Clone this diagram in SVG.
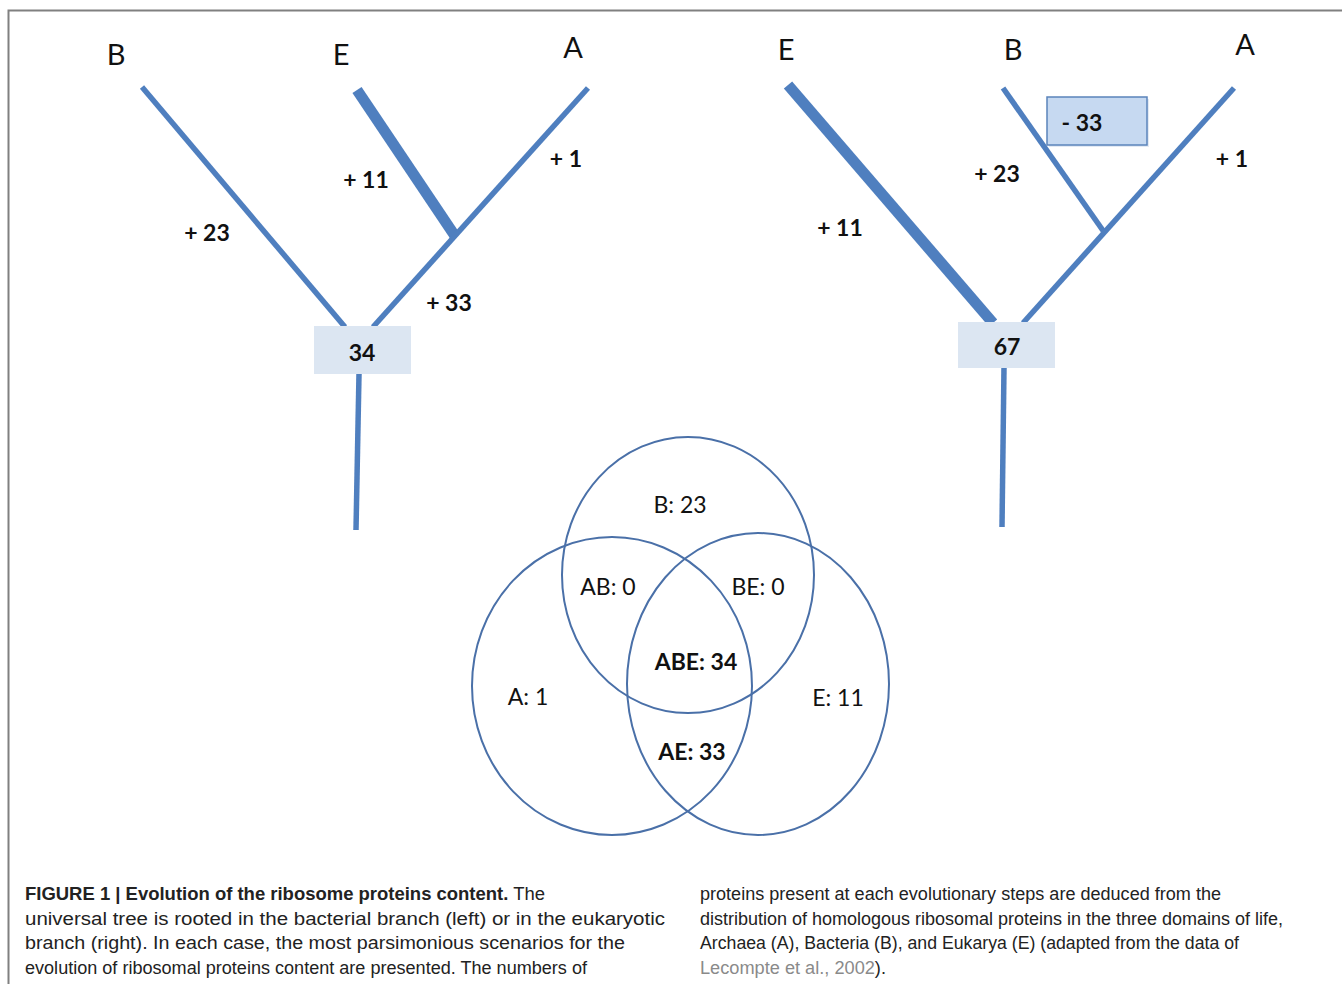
<svg xmlns="http://www.w3.org/2000/svg" width="1342" height="984" viewBox="0 0 1342 984">
<style>
.br{stroke:#4f7fbf;stroke-width:5.5;stroke-linecap:butt;fill:none}
.thick{stroke:#4f7fbf;stroke-width:11;fill:none}
.tip{font-family:Lato,"Open Sans",sans-serif;font-size:29px;fill:#111;text-anchor:middle}
.gain{font-family:Lato,"Open Sans",sans-serif;font-size:23px;font-weight:bold;fill:#111;text-anchor:middle}
.box{fill:#dce6f2}
.vc{fill:none;stroke:#4a70a8;stroke-width:2}
.vt{font-family:Lato,"Open Sans",sans-serif;font-size:23px;fill:#111;text-anchor:middle}
.vb{font-weight:bold}
.cap{font-family:"Liberation Sans",Arial,sans-serif;font-size:17.5px;fill:#222}
</style>
<rect width="1342" height="984" fill="#fff"/>
<path d="M8.5 984 V10.5 H1342" fill="none" stroke="#808080" stroke-width="2"/>

<g id="connectors">
  <line class="br" x1="142" y1="87" x2="345" y2="327"/>
  <line class="thick" x1="357" y1="90" x2="455" y2="236"/>
  <line class="br" x1="588" y1="88" x2="373" y2="327"/>
  <line class="br" x1="359" y1="374" x2="356" y2="530"/>
  <line class="thick" x1="788" y1="85" x2="993" y2="323"/>
  <line class="br" x1="1003" y1="88" x2="1104" y2="232"/>
  <line class="br" x1="1234" y1="88" x2="1023" y2="323"/>
  <line class="br" x1="1004" y1="367" x2="1002" y2="527"/>
</g>

<g id="tree-left">
  <text class="tip" x="116" y="65">B</text>
  <text class="tip" x="341" y="65">E</text>
  <text class="tip" x="573" y="58">A</text>
  <text class="gain" x="207" y="241">+ 23</text>
  <text class="gain" x="366" y="188">+ 11</text>
  <text class="gain" x="566" y="167">+ 1</text>
  <text class="gain" x="449" y="311">+ 33</text>
  <g id="root-left">
    <rect class="box" x="314" y="326" width="97" height="48"/>
    <text class="gain" x="362" y="361">34</text>
  </g>
</g>

<g id="tree-right">
  <text class="tip" x="786" y="60">E</text>
  <text class="tip" x="1013" y="60">B</text>
  <text class="tip" x="1245" y="55">A</text>
  <text class="gain" x="997" y="182">+ 23</text>
  <text class="gain" x="840" y="236">+ 11</text>
  <text class="gain" x="1232" y="167">+ 1</text>
  <g id="loss-box">
    <rect x="1049" y="99" width="100" height="48" fill="#c8d6ea" opacity="0.5"/>
    <rect x="1047" y="97" width="100" height="48" fill="#c6d9f1" stroke="#5b84bb" stroke-width="1.5"/>
    <text class="gain" x="1082" y="131">- 33</text>
  </g>
  <g id="root-right">
    <rect class="box" x="958" y="322" width="97" height="46"/>
    <text class="gain" x="1007" y="355">67</text>
  </g>
</g>

<g id="venn">
  <ellipse id="circle-B" class="vc" cx="688" cy="575" rx="126" ry="138"/>
  <ellipse id="circle-A" class="vc" cx="612" cy="686" rx="140" ry="149"/>
  <ellipse id="circle-E" class="vc" cx="758" cy="684" rx="131" ry="151"/>
  <text class="vt" x="680" y="513">B: 23</text>
  <text class="vt" x="608" y="595">AB: 0</text>
  <text class="vt" x="758" y="595">BE: 0</text>
  <text class="vt vb" x="696" y="670">ABE: 34</text>
  <text class="vt" x="528" y="705">A: 1</text>
  <text class="vt" x="838" y="706">E: 11</text>
  <text class="vt vb" x="692" y="760">AE: 33</text>
</g>

<g id="caption">
  <text class="cap" x="25" y="900" textLength="520" lengthAdjust="spacingAndGlyphs"><tspan font-weight="bold">FIGURE 1 | Evolution of the ribosome proteins content.</tspan> The</text>
  <text class="cap" x="25" y="925" textLength="640" lengthAdjust="spacingAndGlyphs">universal tree is rooted in the bacterial branch (left) or in the eukaryotic</text>
  <text class="cap" x="25" y="949" textLength="600" lengthAdjust="spacingAndGlyphs">branch (right). In each case, the most parsimonious scenarios for the</text>
  <text class="cap" x="25" y="974" textLength="562" lengthAdjust="spacingAndGlyphs">evolution of ribosomal proteins content are presented. The numbers of</text>
  <text class="cap" x="700" y="900" textLength="521" lengthAdjust="spacingAndGlyphs">proteins present at each evolutionary steps are deduced from the</text>
  <text class="cap" x="700" y="925" textLength="583" lengthAdjust="spacingAndGlyphs">distribution of homologous ribosomal proteins in the three domains of life,</text>
  <text class="cap" x="700" y="949" textLength="539" lengthAdjust="spacingAndGlyphs">Archaea (A), Bacteria (B), and Eukarya (E) (adapted from the data of</text>
  <text class="cap" x="700" y="974" textLength="186" lengthAdjust="spacingAndGlyphs"><tspan fill="#8a8a8a">Lecompte et al., 2002</tspan>).</text>
</g>
</svg>
